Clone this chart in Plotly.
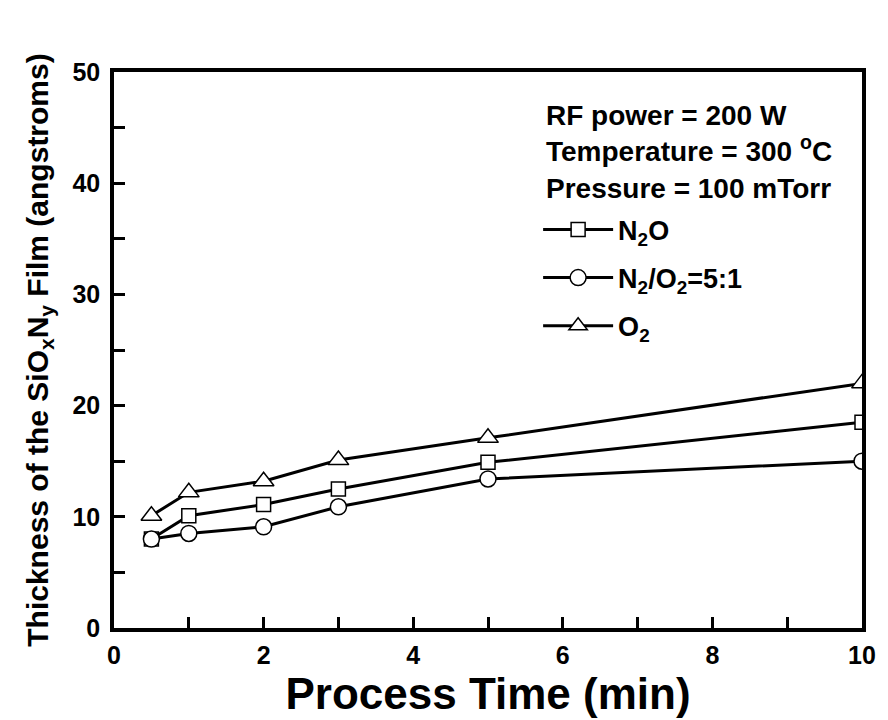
import plotly.graph_objects as go

time_min = [0.5, 1, 2, 3, 5, 10]
n2o = [8.0, 10.1, 11.1, 12.5, 14.9, 18.5]
n2_o2 = [8.0, 8.5, 9.1, 10.9, 13.4, 15.0]
o2 = [10.1, 12.2, 13.2, 15.1, 17.1, 22.0]

series_names = ["N<sub>2</sub>O", "N<sub>2</sub>/O<sub>2</sub>=5:1", "O<sub>2</sub>"]
series_values = [n2o, n2_o2, o2]
series_symbols = ["square", "circle", "triangle-up"]
series_sizes = [14, 16, 18]

x_ticks = [0, 2, 4, 6, 8, 10]
y_ticks = [0, 10, 20, 30, 40, 50]

notes = ["RF power = 200 W", "Temperature = 300 <sup>o</sup>C", "Pressure = 100 mTorr"]
note_y = [0.922, 0.862, 0.791]

FONT = "Arial, Liberation Sans, Helvetica, sans-serif"

fig = go.Figure()
for i, (name, vals, sym, sz) in enumerate(zip(series_names, series_values, series_symbols, series_sizes)):
    fig.add_trace(go.Scatter(
        x=time_min, y=vals, name=name, mode="lines+markers",
        legendgroup=f"g{i}",
        line=dict(color="black", width=3),
        marker=dict(symbol=sym, size=sz, color="white",
                    line=dict(color="black", width=1.5)),
        cliponaxis=True,
    ))

for txt, yy in zip(notes, note_y):
    fig.add_annotation(
        text=f"<b>{txt}</b>", xref="paper", yref="paper", x=0.575, y=yy,
        xanchor="left", yanchor="middle", showarrow=False,
        font=dict(family=FONT, size=28, color="black"),
    )

axis_common = dict(
    showline=True, linecolor="black", linewidth=3.5, mirror=True,
    ticks="inside", ticklen=11, tickwidth=3, tickcolor="black",
    showgrid=False, zeroline=False,
    tickfont=dict(family=FONT, size=25, color="black", weight="bold"),
)

fig.update_xaxes(
    range=[0, 10], tickvals=x_ticks, ticktext=[str(v) for v in x_ticks],
    minor=dict(dtick=1, ticks="inside", ticklen=11, tickwidth=3, tickcolor="black"),
    title=dict(text="<b>Process Time (min)</b>", font=dict(family=FONT, size=44, color="black"), standoff=8),
    ticklabelstandoff=2,
    **axis_common,
)
fig.update_yaxes(
    range=[0, 50], tickvals=y_ticks, ticktext=[str(v) for v in y_ticks],
    minor=dict(dtick=5, ticks="inside", ticklen=11, tickwidth=3, tickcolor="black"),
    title=dict(text="<b>Thickness of the SiO<sub>x</sub>N<sub>y</sub> Film (angstroms)</b>",
               font=dict(family=FONT, size=30, color="black"), standoff=16),
    ticklabelstandoff=5,
    **axis_common,
)

fig.update_layout(
    width=880, height=712,
    margin=dict(l=106, r=19, t=64, b=92),
    paper_bgcolor="white", plot_bgcolor="white",
    showlegend=True,
    legend=dict(
        x=0.567, y=0.76, xanchor="left", yanchor="top",
        bgcolor="rgba(0,0,0,0)", borderwidth=0,
        font=dict(family=FONT, size=27, color="black", weight="bold"),
        itemwidth=70, tracegroupgap=10, traceorder="grouped",
    ),
)

fig.write_html("out.html")
